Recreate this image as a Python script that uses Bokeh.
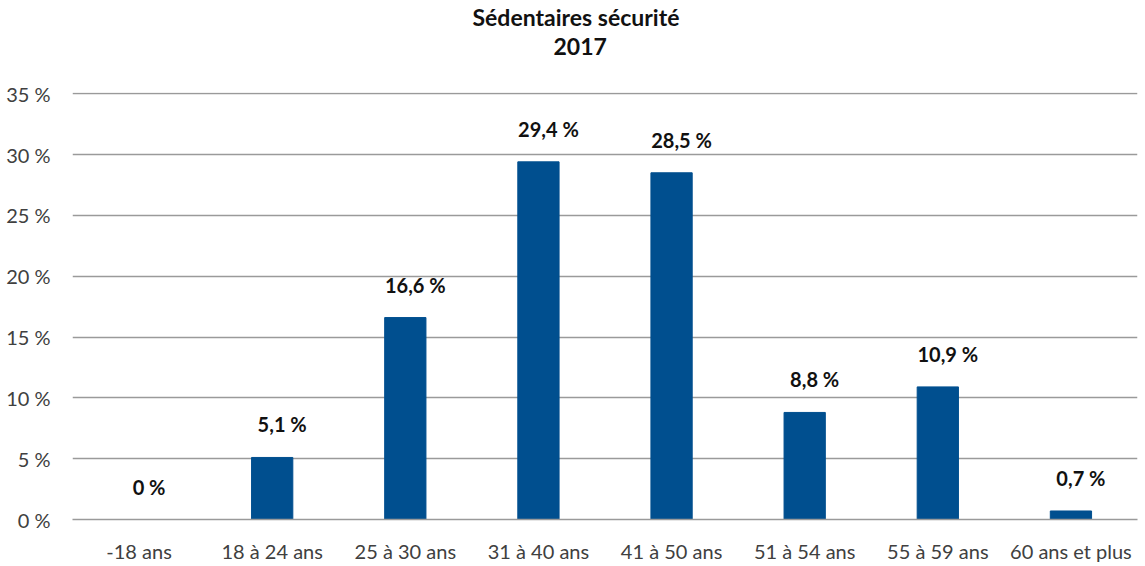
from bokeh.plotting import figure
from bokeh.models import ColumnDataSource, Range1d, FixedTicker, Title
from bokeh.core.properties import value
from bokeh.embed import file_html
from bokeh.resources import INLINE

categories = ["-18 ans", "18 à 24 ans", "25 à 30 ans", "31 à 40 ans",
              "41 à 50 ans", "51 à 54 ans", "55 à 59 ans", "60 ans et plus"]
values = [0, 5.1, 16.6, 29.4, 28.5, 8.8, 10.9, 0.7]
y_ticks = [0, 5, 10, 15, 20, 25, 30, 35]
y_tick_labels = ["0 %", "5 %", "10 %", "15 %", "20 %", "25 %", "30 %", "35 %"]
title_lines = ["Sédentaires sécurité", "2017"]

FONT = "Lato"
labels = ["0 %" if v == 0 else f"{v:.1f}".replace(".", ",") + " %" for v in values]
src = ColumnDataSource(dict(cat=categories, val=values, lab=labels))

p = figure(x_range=categories, y_range=Range1d(0, 35.1), width=1141, height=565,
           output_backend="svg", toolbar_location=None,
           min_border_left=72, min_border_right=4, min_border_top=0, min_border_bottom=45)
p.outline_line_color = None

p.vbar(x="cat", top="val", width=0.31, source=src, color="#004F8F")
p.text(x="cat", y="val", text="lab", source=src, y_offset=-33, x_offset=10,
       text_align="center", text_baseline="middle",
       text_font=value(FONT), text_font_size="20px", text_font_style="bold",
       text_color="#111111")

p.yaxis.ticker = FixedTicker(ticks=y_ticks)
p.yaxis.major_label_overrides = {t: l for t, l in zip(y_ticks, y_tick_labels)}
p.yaxis.axis_line_color = None
p.yaxis.major_tick_line_color = None
p.yaxis.minor_tick_line_color = None
p.yaxis.major_label_standoff = 16
p.xaxis.axis_line_color = "#9a9a9a"
p.xaxis.axis_line_width = 1.5
p.xaxis.major_tick_line_color = None
p.xaxis.major_label_standoff = 13
for ax in (p.xaxis, p.yaxis):
    ax.major_label_text_font = FONT
    ax.major_label_text_font_size = "20px"
    ax.major_label_text_color = "#404040"

p.xgrid.grid_line_color = None
p.ygrid.ticker = FixedTicker(ticks=y_ticks)
p.ygrid.grid_line_color = "#9a9a9a"
p.ygrid.grid_line_width = 1.5

# spacer between title and plot area (added first -> closest to the plot)
p.add_layout(Title(text=" ", text_font_size="10px", standoff=20), "above")
p.add_layout(Title(text=title_lines[1], align="left", offset=481, text_font=FONT,
                   text_font_size="23px", text_font_style="bold", text_color="#111111",
                   standoff=10), "above")
p.add_layout(Title(text=title_lines[0], align="left", offset=400, text_font=FONT,
                   text_font_size="23px", text_font_style="bold", text_color="#111111",
                   standoff=0), "above")

open("out.html", "w").write(file_html(p, INLINE))
